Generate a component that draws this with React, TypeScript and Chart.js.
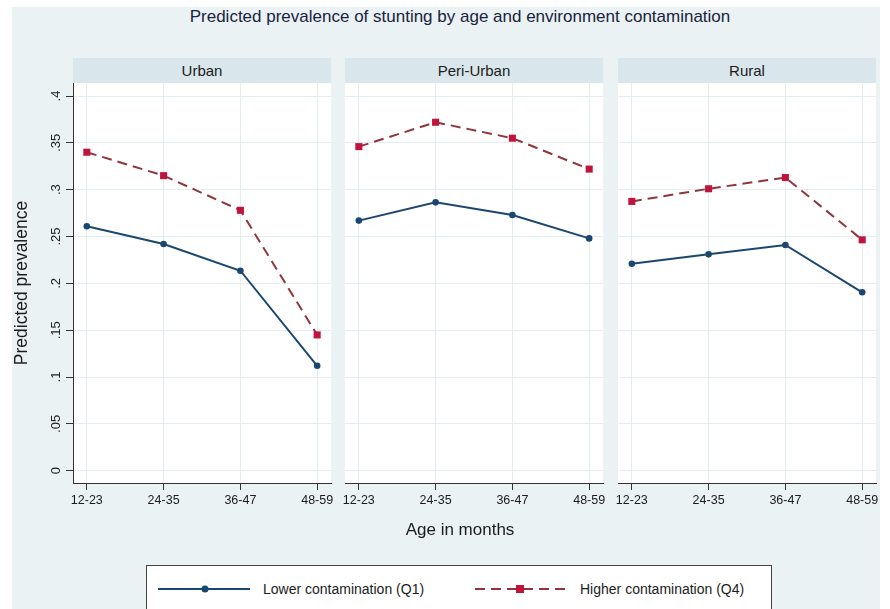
import React, { useEffect, useRef } from "react";
import { Chart, registerables } from "chart.js";

Chart.register(...registerables);

// ---- data ----
const chartTitle = "Predicted prevalence of stunting by age and environment contamination";
const panelTitles = ["Urban", "Peri-Urban", "Rural"];
const categories = ["12-23", "24-35", "36-47", "48-59"];
const seriesNames = ["Lower contamination (Q1)", "Higher contamination (Q4)"];
const yTitle = "Predicted prevalence";
const xTitle = "Age in months";

const lowerUrban = [0.261, 0.242, 0.2135, 0.112];
const higherUrban = [0.34, 0.315, 0.278, 0.145];
const lowerPeri = [0.267, 0.2865, 0.273, 0.248];
const higherPeri = [0.346, 0.372, 0.355, 0.322];
const lowerRural = [0.221, 0.231, 0.241, 0.1905];
const higherRural = [0.2875, 0.301, 0.313, 0.2465];

const yTickValues = [0, 0.05, 0.1, 0.15, 0.2, 0.25, 0.3, 0.35, 0.4];
const yTickLabels = ["0", ".05", ".1", ".15", ".2", ".25", ".3", ".35", ".4"];

// ---- styles ----
const FONT = "'Liberation Sans', Arial, Helvetica, sans-serif";
const BLUE = "#1a476f";
const RED_LINE = "#90353b";
const RED_MARK = "#c0143c";
const GRID = "#e4edf0";
const AXIS = "#333333";
const TEXT = "#1c1c1c";
const BG = "#eaf2f3";
const HEADER = "#d9e6eb";
const Y_MIN = -0.0131;
const Y_MAX = 0.4139;
const X_MIN = -0.18;
const X_MAX = 3.18;
const SIDE_PAD = 12;

Chart.defaults.font.family = FONT;

type PanelProps = {
  lower: number[];
  higher: number[];
  showY: boolean;
  left: number;
  width: number;
};

function Panel({ lower, higher, showY, left, width }: PanelProps) {
  const ref = useRef<HTMLCanvasElement>(null);
  useEffect(() => {
    const toPts = (arr: number[]) => arr.map((v, i) => ({ x: i, y: v }));
    const bgPlugin = {
      id: "plotBg",
      beforeDraw(chart: any) {
        const { ctx, chartArea: a } = chart;
        ctx.save();
        ctx.fillStyle = "#ffffff";
        ctx.fillRect(a.left, a.top, a.right - a.left, a.bottom - a.top);
        ctx.restore();
      },
    };
    const yLabelPlugin = {
      id: "yRotLabels",
      afterDraw(chart: any) {
        if (!showY) return;
        const s = chart.scales.y;
        const ctx = chart.ctx;
        ctx.save();
        ctx.fillStyle = TEXT;
        ctx.font = `13px ${FONT}`;
        ctx.textAlign = "center";
        ctx.textBaseline = "alphabetic";
        yTickValues.forEach((v, i) => {
          const y = s.getPixelForValue(v);
          ctx.save();
          ctx.translate(s.right - 13, y);
          ctx.rotate(-Math.PI / 2);
          ctx.fillText(yTickLabels[i], 0, 0);
          ctx.restore();
        });
        ctx.restore();
      },
    };
    const chart = new Chart(ref.current as HTMLCanvasElement, {
      type: "line",
      data: {
        datasets: [
          {
            label: seriesNames[0],
            data: toPts(lower),
            borderColor: BLUE,
            backgroundColor: BLUE,
            borderWidth: 2,
            pointStyle: "circle",
            pointRadius: 3.3,
            pointBorderWidth: 0,
            pointBackgroundColor: BLUE,
            tension: 0,
          },
          {
            label: seriesNames[1],
            data: toPts(higher),
            borderColor: RED_LINE,
            backgroundColor: RED_MARK,
            borderWidth: 2,
            borderDash: [10, 6],
            pointStyle: "rect",
            pointRadius: 5,
            pointBorderWidth: 0,
            pointBackgroundColor: RED_MARK,
            tension: 0,
          },
        ],
      },
      options: {
        animation: false,
        responsive: false,
        maintainAspectRatio: false,
        layout: {
          padding: { left: showY ? 0 : SIDE_PAD, right: SIDE_PAD, top: 0, bottom: 0 },
          autoPadding: false,
        },
        plugins: {
          legend: { display: false },
          tooltip: { enabled: false },
          title: { display: false },
        },
        scales: {
          x: {
            type: "linear",
            min: X_MIN,
            max: X_MAX,
            afterBuildTicks: (s: any) => {
              s.ticks = categories.map((_, i) => ({ value: i }));
            },
            ticks: {
              callback: (v: any) => categories[v as number] ?? "",
              font: { size: 12.5, family: FONT },
              color: TEXT,
              padding: 3,
              autoSkip: false,
              maxRotation: 0,
              minRotation: 0,
            },
            grid: {
              color: GRID,
              tickColor: AXIS,
              tickLength: 7,
              drawTicks: true,
              lineWidth: 1,
            },
            border: { display: true, color: AXIS, width: 1 },
            afterFit: (s: any) => {
              s.height = 40;
              s.paddingLeft = 0;
              s.paddingRight = 0;
            },
          },
          y: {
            type: "linear",
            min: Y_MIN,
            max: Y_MAX,
            afterBuildTicks: (s: any) => {
              s.ticks = yTickValues.map((v) => ({ value: v }));
            },
            ticks: { display: false },
            grid: {
              color: GRID,
              tickColor: AXIS,
              tickLength: 7,
              drawTicks: showY,
              lineWidth: 1,
            },
            border: { display: showY, color: AXIS, width: 1 },
            title: {
              display: showY,
              text: yTitle,
              font: { size: 17.5, family: FONT },
              color: TEXT,
              padding: 0,
            },
            afterFit: (s: any) => {
              s.width = showY ? 61 : 0;
              s.paddingTop = 0;
              s.paddingBottom = 0;
            },
          },
        },
      },
      plugins: [bgPlugin, yLabelPlugin],
    } as any);
    return () => chart.destroy();
  }, []);
  return (
    <canvas
      ref={ref}
      width={width}
      height={440}
      style={{ position: "absolute", left, top: 83, width, height: 440 }}
    />
  );
}

const panelData = [
  { lower: lowerUrban, higher: higherUrban },
  { lower: lowerPeri, higher: higherPeri },
  { lower: lowerRural, higher: higherRural },
];
const panelBoxes = [
  { plotLeft: 73, plotWidth: 258 },
  { plotLeft: 345, plotWidth: 258 },
  { plotLeft: 618, plotWidth: 258 },
];

export default function App() {
  const txt: React.CSSProperties = { position: "absolute", fontFamily: FONT, color: TEXT, whiteSpace: "nowrap" };
  return (
    <div
      style={{
        position: "fixed",
        left: 0,
        top: 0,
        width: 890,
        height: 609,
        background: "#ffffff",
        overflow: "hidden",
      }}
    >
      <div style={{ position: "absolute", left: 12, top: 7, width: 868, height: 602, background: BG }} />
      <div style={{ ...txt, left: 0, width: 920, top: 6, height: 22, lineHeight: "22px", fontSize: 17, textAlign: "center", color: "#1a2240" }}>
        {chartTitle}
      </div>
      {panelTitles.map((t, i) => (
        <div
          key={t}
          style={{
            ...txt,
            left: panelBoxes[i].plotLeft,
            width: panelBoxes[i].plotWidth,
            top: 58,
            height: 25,
            lineHeight: "25px",
            fontSize: 15,
            textAlign: "center",
            background: HEADER,
          }}
        >
          {t}
        </div>
      ))}
      {panelData.map((p, i) => {
        const showY = i === 0;
        const left = showY ? 12 : panelBoxes[i].plotLeft - SIDE_PAD;
        const width = showY
          ? panelBoxes[i].plotLeft + panelBoxes[i].plotWidth - 12 + SIDE_PAD
          : panelBoxes[i].plotWidth + 2 * SIDE_PAD;
        return <Panel key={i} lower={p.lower} higher={p.higher} showY={showY} left={left} width={width} />;
      })}
      <div style={{ ...txt, left: 0, width: 920, top: 519, height: 22, lineHeight: "22px", fontSize: 17, textAlign: "center" }}>
        {xTitle}
      </div>
      <div
        style={{
          position: "absolute",
          left: 146,
          top: 565,
          width: 624,
          height: 60,
          border: "1px solid #444",
          background: "#ffffff",
        }}
      >
        <svg width={624} height={60} style={{ position: "absolute", left: 0, top: 0 }}>
          <line x1={11} y1={23} x2={103} y2={23} stroke={BLUE} strokeWidth={2} />
          <circle cx={58} cy={23} r={3.5} fill={BLUE} />
          <line x1={328} y1={23} x2={420} y2={23} stroke={RED_LINE} strokeWidth={2} strokeDasharray="10 6" />
          <rect x={369} y={19} width={8} height={8} fill={RED_MARK} />
        </svg>
        <div style={{ ...txt, left: 116, top: 14, height: 18, lineHeight: "18px", fontSize: 14 }}>{seriesNames[0]}</div>
        <div style={{ ...txt, left: 433, top: 14, height: 18, lineHeight: "18px", fontSize: 14 }}>{seriesNames[1]}</div>
      </div>
    </div>
  );
}
